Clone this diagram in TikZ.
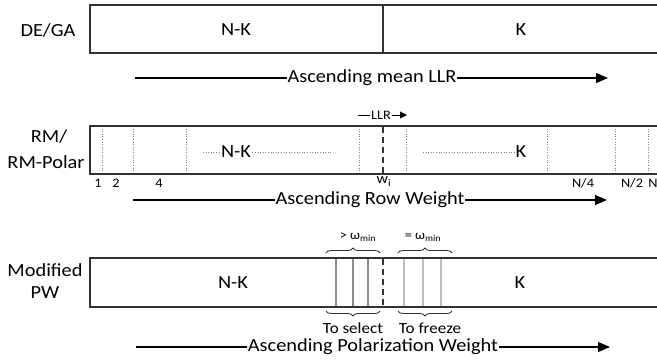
\documentclass[tikz,border=0pt]{standalone}
\usepackage{fontspec}
\setmainfont{Carlito}
\usetikzlibrary{arrows.meta,decorations.pathreplacing}
\definecolor{edge}{HTML}{333333}
\definecolor{midgray}{HTML}{8C8C8C}
\definecolor{lightgray}{HTML}{BDBDBD}
\begin{document}
\begin{tikzpicture}[x=1pt,y=1pt,
  txt/.style={inner sep=0pt, xscale=1.1, transform shape, font=\fontsize{18.5}{21}\selectfont},
  smalltxt/.style={inner sep=0pt, xscale=1.1, transform shape, font=\fontsize{13}{15}\selectfont},
  midtxt/.style={inner sep=0pt, xscale=1.1, transform shape, font=\fontsize{15.5}{18}\selectfont},
  boxline/.style={draw=edge, line width=1.4pt},
  arrowline/.style={draw=black, line width=1.1pt},
  arrowtip/.style={arrowline, -{Triangle[length=12pt,width=10pt]}},
  dotline/.style={draw=gray, line width=0.6pt, dotted},
  splitdash/.style={draw=edge, line width=1.9pt, dash pattern=on 6pt off 4pt},
  brc/.style={draw=edge, line width=0.9pt, decorate, decoration={brace, amplitude=5pt}}
]
\useasboundingbox (0,0) rectangle (657,-360);

% ---------- Row 1: DE/GA ----------
\node[txt] (lab1) at (48,-30) {DE/GA};
\draw[boxline] (657,-5) -- (90,-5) -- (90,-53) -- (657,-53);
\draw[boxline] (383,-5) -- (383,-53);
\node[txt] (nk1) at (236,-30) {N-K};
\node[txt] (k1) at (521,-30) {K};
\coordinate (a1s) at (135,-78);
\coordinate (a1e) at (608,-78);
\node[txt, inner xsep=0.5pt] (a1t) at (372,-78) {Ascending mean LLR};
\draw[arrowline] (a1s) -- (a1t.west);
\draw[arrowtip] (a1t.east) -- (a1e);

% ---------- Row 2: RM / RM-Polar ----------
\node[txt] (lab2a) at (49,-136) {RM/};
\node[txt] (lab2b) at (46,-162) {RM-Polar};
\coordinate (llrs) at (358,-115);
\coordinate (llre) at (407,-115);
\node[smalltxt, inner xsep=0.5pt] (llrt) at (381,-115) {LLR};
\draw[arrowline, line width=0.9pt] (llrs) -- (llrt.west);
\draw[arrowline, line width=0.9pt, -{Triangle[length=7pt,width=7pt]}] (llrt.east) -- (llre);

\foreach \xx in {102,133,186,359,406,547,615,648}
  \draw[dotline] (\xx,-126) -- (\xx,-174);
\draw[dotline] (203,-152) -- (333,-152);
\draw[dotline] (423,-152) -- (515,-152);
\node[txt, fill=white, inner xsep=1pt] (nk2) at (236,-152) {N-K};
\node[txt, fill=white, inner xsep=1pt] (k2) at (521,-152) {K};
\draw[boxline] (657,-126) -- (90,-126) -- (90,-174) -- (657,-174);
\draw[splitdash] (383,-127) -- (383,-174);

\node[smalltxt] (n1) at (98,-183) {1};
\node[smalltxt] (n2) at (116,-183) {2};
\node[smalltxt] (n4) at (159,-183) {4};
\node[midtxt, font=\fontsize{14.5}{16}\selectfont] (wi) at (384,-181.5) {w\textsubscript{i}};
\node[smalltxt] (nq) at (583,-183) {N/4};
\node[smalltxt] (nh) at (632,-183) {N/2};
\node[smalltxt] (nn) at (653,-183) {N};

\coordinate (a2s) at (133,-200);
\coordinate (a2e) at (607,-200);
\node[txt, inner xsep=0.5pt] (a2t) at (370,-200) {Ascending Row Weight};
\draw[arrowline] (a2s) -- (a2t.west);
\draw[arrowtip] (a2t.east) -- (a2e);

% ---------- Row 3: Modified PW ----------
\node[txt] (lab3a) at (45,-270) {Modified};
\node[txt] (lab3b) at (45,-293) {PW};
\draw[boxline] (657,-258) -- (90,-258) -- (90,-307) -- (657,-307);
\node[txt] (nk3) at (233,-283) {N-K};
\node[txt] (k3) at (520,-283) {K};
\foreach \xx in {336,353,368}
  \draw[draw=midgray, line width=1.9pt] (\xx,-258.7) -- (\xx,-306.3);
\foreach \xx in {404,423,441}
  \draw[draw=lightgray, line width=1.9pt] (\xx,-258.7) -- (\xx,-306.3);
\draw[splitdash] (383,-259) -- (383,-306);

\coordinate (bt1a) at (326,-253);
\coordinate (bt1b) at (380,-253);
\coordinate (bt2a) at (398,-253);
\coordinate (bt2b) at (452,-253);
\draw[brc] (bt1a) -- (bt1b);
\draw[brc] (bt2a) -- (bt2b);
\node[smalltxt] (gt) at (358,-237) {> ω\textsubscript{min}};
\node[smalltxt] (eq) at (423,-237) {= ω\textsubscript{min}};

\coordinate (bb1a) at (380,-311);
\coordinate (bb1b) at (326,-311);
\coordinate (bb2a) at (452,-311);
\coordinate (bb2b) at (398,-311);
\draw[brc] (bb1a) -- (bb1b);
\draw[brc] (bb2a) -- (bb2b);
\node[midtxt] (sel) at (353,-328) {To select};
\node[midtxt] (frz) at (430,-328) {To freeze};

\coordinate (a3s) at (136,-347);
\coordinate (a3e) at (610,-347);
\node[txt, inner xsep=0.5pt] (a3t) at (373,-347) {Ascending Polarization Weight};
\draw[arrowline] (a3s) -- (a3t.west);
\draw[arrowtip] (a3t.east) -- (a3e);
\end{tikzpicture}
\end{document}
